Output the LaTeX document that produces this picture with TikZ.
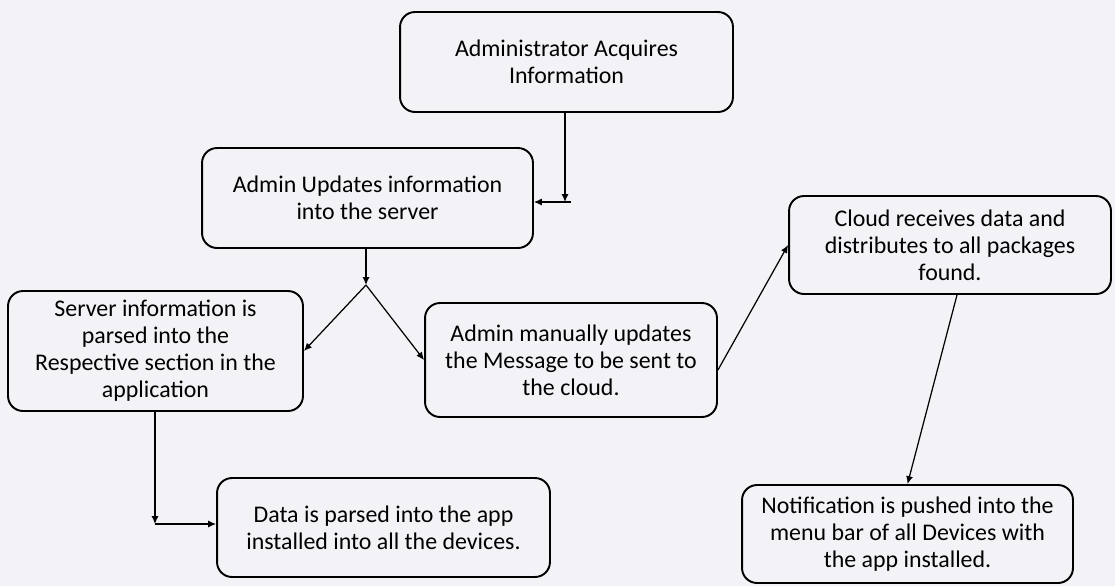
\documentclass[tikz,border=0pt]{standalone}
\usepackage{fontspec}
\setmainfont{Carlito}
\usetikzlibrary{arrows.meta}
\definecolor{paper}{RGB}{243,243,247}
\begin{document}
\begin{tikzpicture}[x=0.02cm,y=-0.02cm,every node/.style={inner sep=1pt,font=\fontsize{13.6}{15.4}\selectfont,align=center}]
\tikzstyle{arrow}=[draw,line width=0.7pt,-{Latex[length=4.5pt,width=4pt]}]
\tikzstyle{box}=[draw,line width=1.1pt,rounded corners=0.3cm,fill=paper]
\fill[paper](0,0) rectangle (1115,586);
\useasboundingbox (0,0) rectangle (1115,586);

\node[box,minimum width=6.66cm,minimum height=2cm](b1) at (566.5,62){Administrator Acquires\\Information};
\node[box,minimum width=6.62cm,minimum height=2cm](b2) at (367.5,198){Admin Updates information\\into the server};
\node[box,minimum width=5.9cm,minimum height=2.4cm](b3) at (155.5,351){Server information is\\parsed into the\\Respective section in the\\application};
\node[box,minimum width=5.84cm,minimum height=2.28cm](b4) at (571,360){Admin manually updates\\the Message to be sent to\\the cloud.};
\node[box,minimum width=6.44cm,minimum height=1.96cm](b5) at (950,245){Cloud receives data and\\distributes to all packages\\found.};
\node[box,minimum width=6.66cm,minimum height=1.98cm](b6) at (383.5,527.5){Data is parsed into the app\\installed into all the devices.};
\node[box,minimum width=6.62cm,minimum height=1.96cm](b7) at (907.5,534){Notification is pushed into the\\menu bar of all Devices with\\the app installed.};

\coordinate(j1) at (565,202);
\coordinate(j2) at (366,285);
\coordinate(j3) at (155,524);

\path[arrow](b1.south -| j1)--(j1);
\path[arrow]([xshift=0.12cm]j1)--(b2.east |- j1);

\path[arrow](b2.south -| j2)--(j2);
\path[arrow](j2)--(b3.east);
\path[arrow](j2)--(b4.west);

\path[arrow](b3.south -| j3)--(j3);
\path[arrow](j3)--(j3 -| b6.west);

\path[arrow]([yshift=-0.2cm]b4.east)--(b5.west);
\path[arrow]([xshift=0.14cm]b5.south)--(b7.north);
\end{tikzpicture}
\end{document}
